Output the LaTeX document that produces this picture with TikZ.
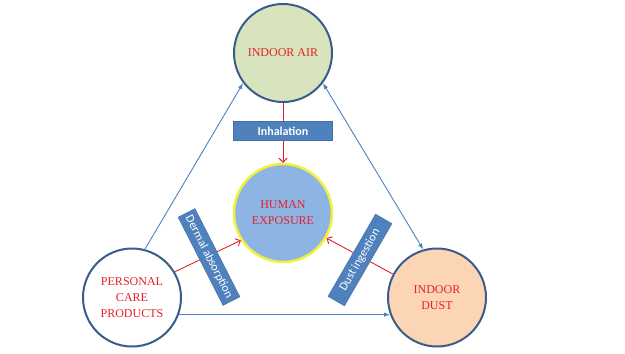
\documentclass[tikz,border=0pt]{standalone}
\usepackage{fontspec}
\setmainfont{Liberation Serif}
\newfontfamily\boxfont{Carlito}
\usepackage{tikz}
\usetikzlibrary{arrows.meta,calc,positioning}
\definecolor{rimblue}{HTML}{385D8A}
\definecolor{linkblue}{HTML}{4F81BD}
\definecolor{airgreen}{HTML}{D7E4BD}
\definecolor{dustpeach}{HTML}{FCD5B5}
\definecolor{humanblue}{HTML}{8EB4E3}
\definecolor{rimyellow}{HTML}{F2F23A}
\definecolor{labelred}{HTML}{E8202A}
\tikzset{
  site/.style={circle,draw=rimblue,line width=2pt,minimum size=98pt,inner sep=0pt,
    align=center,text=labelred,font=\fontsize{12}{16}\selectfont},
  routebox/.style={rectangle,fill=linkblue,draw=linkblue!85!black,line width=0.4pt,
    minimum width=99pt,minimum height=19pt,inner sep=0pt,text=white,
    font=\boxfont\fontsize{12}{14}\selectfont},
  transfer/.style={draw=linkblue,line width=0.9pt,-{Latex[length=6pt,width=4.5pt]}},
  uptake/.style={draw=labelred,line width=0.9pt,-{Straight Barb[length=4pt,width=8pt]}}
}

\begin{document}
\begin{tikzpicture}[x=1pt,y=-1pt]
\useasboundingbox (0,0) rectangle (625,354);
% sources and receptor
\node[site,fill=airgreen] (air) at (283,53) {INDOOR AIR};
\node[site,fill=humanblue,draw=rimyellow,line width=2.5pt] (human) at (283,213) {HUMAN\\EXPOSURE};
\node[site,fill=white] (care) at (132,297.5) {PERSONAL\\CARE\\PRODUCTS};
\node[site,fill=dustpeach] (dust) at (437,297.5) {INDOOR\\DUST};
% exchange between sources
\draw[transfer] (care.75) -- (air.217);
\draw[transfer,{Latex[length=6pt,width=4.5pt]}-{Latex[length=6pt,width=4.5pt]}] (air.323) -- (dust.106);
\draw[transfer] (care.-20) -- (dust.200);
% exposure routes
\draw[uptake] (air.south) -- (human.north);
\draw[uptake] (care.31) -- (human.213);
\draw[uptake] (dust.152) -- (human.330);
\node[routebox,font=\boxfont\bfseries\fontsize{12}{14}\selectfont] (inhal) at (283,131) {Inhalation};
\node[routebox,rotate=-63] (dermal) at (209,257) {Dermal absorption};
\node[routebox,rotate=60,minimum width=95pt] (ingest) at (360,260) {Dust ingestion};
\end{tikzpicture}
\end{document}
